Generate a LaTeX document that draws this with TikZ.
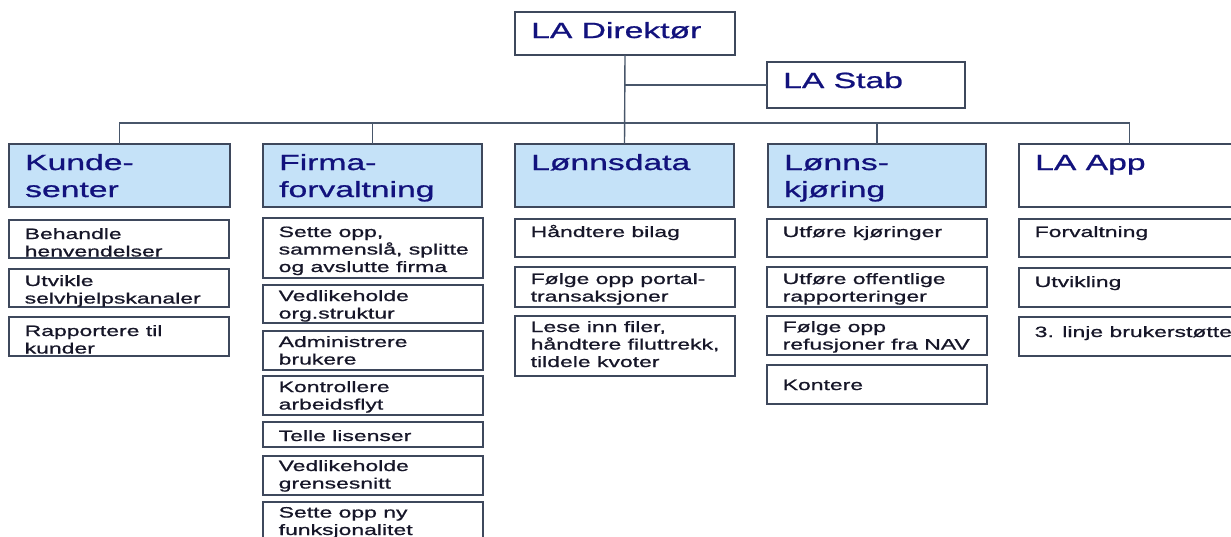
\documentclass[tikz,border=0pt]{standalone}
\usepackage{fontspec}
\setmainfont{Liberation Sans}
\newfontfamily\widesans[FakeStretch=1.53,FakeBold=0.9]{Liberation Sans}

\definecolor{hdfill}{RGB}{197,226,248}
\definecolor{edge}{RGB}{62,72,92}
\definecolor{linkc}{RGB}{72,86,106}
\definecolor{hdblue}{RGB}{18,18,125}
\definecolor{taskink}{RGB}{22,22,40}

% text block whose baseline is that of its first line
\newcommand\toplines[1]{\parbox[t]{300pt}{\raggedright #1}}
% header box: name, left, top, right, bottom, fill, text
\newcommand\headbox[7]{%
  \node[frame, fill=#6, minimum width={(#4-#2)*1pt}, minimum height={(#5-#3)*1pt}] (#1) at (#2,#3) {};
  \node[hdtext] (#1-t) at ([shift={(16pt,-26pt)}]#1.north west) {\toplines{#7}};}
% task box: name, left, top, bottom, baseline offset, text
\newcommand\taskbox[6]{%
  \node[taskframe, minimum height={(#4-#3)*1pt}] (#1) at (#2,#3) {};
  \node[tasktext] (#1-t) at ([shift={(15.5pt,-#5pt)}]#1.north west) {\toplines{#6}};}

\begin{document}
\begin{tikzpicture}[x=1pt,y=-1pt,
  frame/.style={rectangle, draw=edge, line width=1.4pt, inner sep=0pt, outer sep=0pt, anchor=north west},
  taskframe/.style={frame, fill=white, minimum width=220pt},
  hdtext/.style={anchor=base west, inner sep=0pt, text=hdblue,
    font=\widesans\fontsize{22}{27}\selectfont},
  tasktext/.style={anchor=base west, inner sep=0pt, text=taskink,
    font=\widesans\fontsize{15}{17.5}\selectfont},
  link/.style={draw=linkc, line width=1.4pt}]
\useasboundingbox (0,0) rectangle (1231,536);

% top level
\headbox{dir}{515}{12}{735}{55}{white}{LA Direktør}
\headbox{stab}{767}{62}{965}{108}{white}{LA Stab}

% departments
\headbox{kunde}{9}{144}{230}{207}{hdfill}{Kunde-\\senter}
\headbox{firma}{263}{144}{482}{207}{hdfill}{Firma-\\forvaltning}
\headbox{lonn}{515}{144}{734}{207}{hdfill}{Lønnsdata}
\headbox{kjor}{768}{144}{986}{207}{hdfill}{Lønns-\\kjøring}
\headbox{app}{1019}{144}{1240}{207}{white}{LA App}

% connectors
\coordinate (bus) at (625,123);
\draw[link] (dir.south) -- (lonn.north);
\draw[link] (stab.west) -- (stab.west -| dir.south);
\draw[link] (kunde.north) -- (kunde.north |- bus) -- (app.north |- bus) -- (app.north);
\draw[link] (firma.north) -- (firma.north |- bus);
\draw[link] (kjor.north) -- (kjor.north |- bus);

% Kundesenter
\taskbox{k1}{9}{220}{258}{19}{Behandle\\henvendelser}
\taskbox{k2}{9}{269}{307}{17}{Utvikle\\selvhjelpskanaler}
\taskbox{k3}{9}{317}{356}{19}{Rapportere til\\kunder}

% Firmaforvaltning
\taskbox{f1}{263}{218}{278}{19}{Sette opp,\\sammenslå, splitte\\og avslutte firma}
\taskbox{f2}{263}{285}{323}{16}{Vedlikeholde\\org.struktur}
\taskbox{f3}{263}{331}{370}{16}{Administrere\\brukere}
\taskbox{f4}{263}{376}{415}{16}{Kontrollere\\arbeidsflyt}
\taskbox{f5}{263}{422}{447}{19}{Telle lisenser}
\taskbox{f6}{263}{456}{495}{15}{Vedlikeholde\\grensesnitt}
\taskbox{f7}{263}{502}{560}{15.5}{Sette opp ny\\funksjonalitet}

% Lønnsdata
\taskbox{l1}{515}{219}{257}{18}{Håndtere bilag}
\taskbox{l2}{515}{267}{307}{17}{Følge opp portal-\\transaksjoner}
\taskbox{l3}{515}{316}{376}{16}{Lese inn filer,\\håndtere filuttrekk,\\tildele kvoter}

% Lønnskjøring
\taskbox{j1}{767}{219}{257}{18}{Utføre kjøringer}
\taskbox{j2}{767}{267}{307}{17}{Utføre offentlige\\rapporteringer}
\taskbox{j3}{767}{316}{355}{16}{Følge opp\\refusjoner fra NAV}
\taskbox{j4}{767}{365}{404}{25}{Kontere}

% LA App
\taskbox{a1}{1019}{219}{257}{18}{Forvaltning}
\taskbox{a2}{1019}{268}{307}{19}{Utvikling}
\taskbox{a3}{1019}{317}{356}{20}{3. linje brukerstøtte}
\end{tikzpicture}
\end{document}
